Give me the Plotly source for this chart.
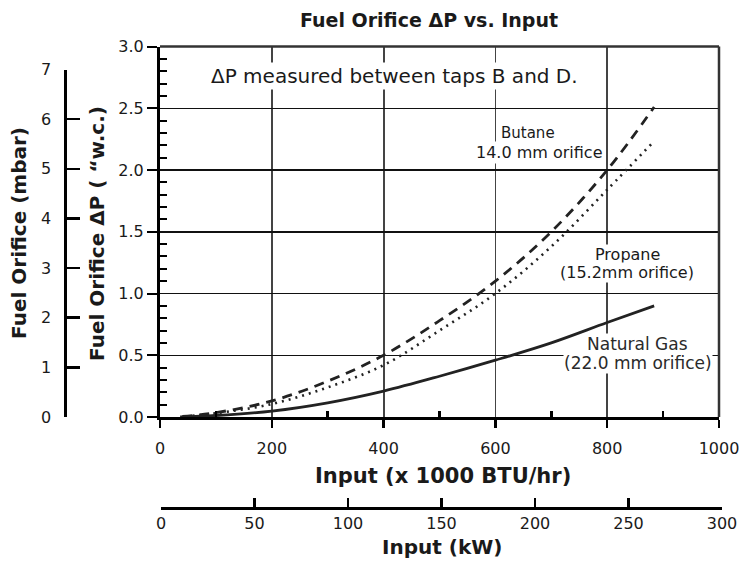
import plotly.graph_objects as go

W, H = 740, 561

# ---------------- data ----------------
ng_x = [36, 100, 200, 300, 400, 500, 600, 700, 800, 884]
ng_y = [0.0, 0.012, 0.048, 0.115, 0.21, 0.33, 0.46, 0.60, 0.765, 0.90]

bu_x = [40, 100, 200, 300, 400, 500, 600, 700, 800, 884]
bu_y = [0.004, 0.035, 0.13, 0.29, 0.50, 0.78, 1.10, 1.50, 2.00, 2.51]

pr_x = [45, 100, 200, 300, 400, 500, 600, 700, 800, 881]
pr_y = [0.004, 0.03, 0.105, 0.24, 0.42, 0.70, 1.00, 1.38, 1.84, 2.22]

x_ticks = [0, 200, 400, 600, 800, 1000]
x_minor = [100, 300, 500, 700, 900]
y_ticks = [0.0, 0.5, 1.0, 1.5, 2.0, 2.5, 3.0]
y_minor = [round(i / 10, 1) for i in range(31) if i % 5 != 0]
mbar_ticks = [0, 1, 2, 3, 4, 5, 6, 7]
kw_ticks = [0, 50, 100, 150, 200, 250, 300]
MBAR_PER_INWC = 2.4884

# ---------------- geometry helpers ----------------
def px(x):
    return x / W

def py(y):
    return 1 - y / H

X_L, X_R = 160, 719
Y_T, Y_B = 46.5, 417
y_dom = [py(Y_B), py(Y_T)]
mbar_top = y_dom[0] + (y_dom[1] - y_dom[0]) * 7 / (3 * MBAR_PER_INWC)

INK = "#1a1a1a"
FONT = "DejaVu Sans"

fig = go.Figure()

fig.add_trace(go.Scatter(x=ng_x, y=ng_y, mode="lines", name="Natural Gas",
                         line=dict(color="#222", width=2.8, shape="spline")))
fig.add_trace(go.Scatter(x=bu_x, y=bu_y, mode="lines", name="Butane",
                         line=dict(color="#222", width=2.8, shape="spline", dash="10px,7px")))
fig.add_trace(go.Scatter(x=pr_x, y=pr_y, mode="lines", name="Propane",
                         line=dict(color="#222", width=2.6, shape="spline", dash="2px,5px")))
# subplot that carries the two secondary (unit-conversion) axes
fig.add_trace(go.Scatter(x=[], y=[], xaxis="x2", yaxis="y3", mode="lines",
                         hoverinfo="skip", showlegend=False))

tickfont = dict(family=FONT, size=16, color=INK)

fig.update_layout(
    width=W, height=H, autosize=False,
    margin=dict(l=0, r=0, t=0, b=0, pad=0, autoexpand=False),
    paper_bgcolor="white", plot_bgcolor="rgba(0,0,0,0)",
    showlegend=False,
    font=dict(family=FONT, size=16, color=INK),
    xaxis=dict(
        domain=[px(X_L), px(X_R)], range=[0, 1000], anchor="y", automargin=False,
        tickmode="array", tickvals=x_ticks, tickfont=tickfont, ticklabelstandoff=7,
        ticks="outside", ticklen=8, tickwidth=2.5, tickcolor="black",
        showline=True, linewidth=3, linecolor="black",
        showgrid=True, gridcolor="#444", gridwidth=1.8, zeroline=False,
        minor=dict(tickmode="array", tickvals=x_minor, ticks="inside",
                   ticklen=6, tickwidth=2.5, tickcolor="black", showgrid=False),
        fixedrange=True,
    ),
    yaxis=dict(
        domain=y_dom, range=[0, 3], anchor="x", automargin=False,
        tickmode="array", tickvals=y_ticks, tickformat=".1f", tickfont=tickfont,
        ticks="outside", ticklen=10, tickwidth=2, tickcolor="black",
        showline=True, linewidth=3, linecolor="black",
        showgrid=True, gridcolor="#111", gridwidth=1.5, zeroline=False,
        minor=dict(tickmode="array", tickvals=y_minor, ticks="inside",
                   ticklen=7, tickwidth=2, tickcolor="black", showgrid=False),
        fixedrange=True,
    ),
    xaxis2=dict(
        domain=[px(161), px(722)], range=[0, 300], anchor="free", automargin=False,
        position=py(508), side="bottom",
        tickmode="array", tickvals=kw_ticks, tickfont=tickfont,
        ticks="inside", ticklen=9, tickwidth=2.5, tickcolor="black",
        showline=True, linewidth=2.5, linecolor="black",
        showgrid=False, zeroline=False, fixedrange=True,
    ),
    yaxis3=dict(
        domain=[y_dom[0], mbar_top], range=[0, 7], anchor="free", automargin=False,
        position=px(64.5), side="left",
        tickmode="array", tickvals=mbar_ticks, tickfont=tickfont, ticklabelstandoff=9,
        ticks="inside", ticklen=13, tickwidth=2.5, tickcolor="black",
        showline=True, linewidth=3, linecolor="black",
        showgrid=False, zeroline=False, fixedrange=True,
    ),
)

# top and right frame of the plot area
fig.add_shape(type="line", xref="x domain", yref="y domain", x0=0, x1=1, y0=1, y1=1,
              line=dict(color="#333", width=2.5))
fig.add_shape(type="line", xref="x domain", yref="y domain", x0=1, x1=1, y0=0, y1=1,
              line=dict(color="#333", width=2.5))

def ann(text, x, y, size, bold=False, bg=None, angle=0, family=FONT, color=INK, pad=1):
    fig.add_annotation(
        text=f"<b>{text}</b>" if bold else text,
        xref="paper", yref="paper", x=px(x), y=py(y),
        xanchor="center", yanchor="middle", showarrow=False,
        textangle=angle, bgcolor=bg, borderpad=pad,
        font=dict(family=family, size=size, color=color),
    )

ann("Fuel Orifice ΔP vs. Input", 429, 20, 19, bold=True)
ann("Input (x 1000 BTU/hr)", 443, 476, 21, bold=True)
ann("Input (kW)", 442, 547, 20, bold=True)
ann("Fuel Orifice ΔP ( “w.c.)", 97, 234, 20, bold=True, angle=-90)
ann("Fuel Orifice (mbar)", 19, 233, 20, bold=True, angle=-90)

ann("ΔP measured between taps B and D.", 394, 76, 20, bg="white")
ann("Butane", 528, 133, 15)
ann("14.0 mm orifice", 539, 152, 16, bg="white")
ann("Propane", 627, 254, 16, bg="white", pad=0)
ann("(15.2mm orifice)", 627, 273, 16, bg="white", pad=0)
ann("Natural Gas", 637, 344, 17, bg="white", color="#2a2a2a", pad=0)
ann("(22.0 mm orifice)", 638, 363, 17, bg="white", color="#2a2a2a", pad=0)

fig.write_html(
    "out.html",
    config={"displayModeBar": False, "staticPlot": True},
    post_script="document.body.style.margin='0';document.body.style.overflow='hidden';",
)
